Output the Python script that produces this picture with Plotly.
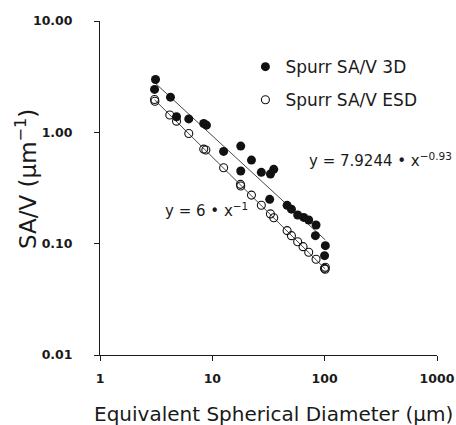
import numpy as np
import plotly.graph_objects as go

# ---- data ----
x_3d = [3.12, 3.06, 4.24, 4.80, 6.17, 8.38, 8.86, 12.6, 17.9, 17.9, 22.3, 27.3,
        32.9, 35.2, 32.4, 46.3, 50.6, 57.5, 65.1, 72.1, 83.8, 82.7, 101.4, 99.8]
y_3d = [2.98, 2.43, 2.07, 1.38, 1.32, 1.20, 1.16, 0.674, 0.752, 0.449, 0.563, 0.437,
        0.422, 0.465, 0.250, 0.221, 0.204, 0.181, 0.172, 0.163, 0.147, 0.118, 0.096, 0.078]

x_esd = [3.06, 3.08, 4.18, 4.80, 6.17, 8.38, 8.76, 12.6, 17.8, 17.9, 22.3, 27.3,
         32.9, 35.2, 46.3, 50.6, 57.5, 64.2, 72.1, 83.8, 101.4, 101.0, 99.5]
y_esd = [1.97, 1.90, 1.43, 1.26, 0.977, 0.707, 0.693, 0.48, 0.341, 0.33, 0.273, 0.221,
         0.185, 0.171, 0.131, 0.118, 0.104, 0.094, 0.0837, 0.0724, 0.0614, 0.0589, 0.0600]

# power-law fits shown on the chart
fit_3d_a, fit_3d_b = 7.9244, -0.93
fit_esd_a, fit_esd_b = 6.0, -1.0

x_tickvals = [1, 10, 100, 1000]
x_ticktext = ["1", "10", "100", "1000"]
y_tickvals = [0.01, 0.1, 1, 10]
y_ticktext = ["0.01", "0.10", "1.00", "10.00"]

FONT = "DejaVu Sans, Liberation Sans, Arial, sans-serif"
INK = "#1a1a1a"

fig = go.Figure()

# trend lines
xl3 = np.array([min(x_3d), max(x_3d)])
fig.add_trace(go.Scatter(x=xl3, y=fit_3d_a * xl3 ** fit_3d_b, mode="lines",
                         line=dict(color="#333333", width=0.9), showlegend=False,
                         hoverinfo="skip"))
xle = np.array([min(x_esd), max(x_esd)])
fig.add_trace(go.Scatter(x=xle, y=fit_esd_a * xle ** fit_esd_b, mode="lines",
                         line=dict(color="#333333", width=0.9), showlegend=False,
                         hoverinfo="skip"))

fig.add_trace(go.Scatter(x=x_esd, y=y_esd, mode="markers", name="Spurr SA/V ESD",
                         marker=dict(symbol="circle-open", size=8, color="#111111",
                                     line=dict(width=1.1, color="#111111")),
                         legend="legend2"))
fig.add_trace(go.Scatter(x=x_3d, y=y_3d, mode="markers", name="Spurr SA/V 3D",
                         marker=dict(symbol="circle", size=9, color="#111111"),
                         legend="legend"))

fig.update_layout(
    width=456, height=425,
    margin=dict(l=100, r=19, t=21, b=70, autoexpand=False),
    paper_bgcolor="white", plot_bgcolor="white",
    font=dict(family=FONT, color=INK),
    xaxis=dict(type="log", range=[0, 3], tickvals=x_tickvals, ticktext=x_ticktext,
               automargin=False,
               showgrid=False, zeroline=False, showline=True, linecolor=INK,
               linewidth=1, ticks="outside", ticklen=5, tickcolor=INK,
               tickfont=dict(size=12.5, family=FONT, weight="bold", color=INK),
               ticklabelstandoff=7),
    yaxis=dict(type="log", range=[-2, 1], tickvals=y_tickvals, ticktext=y_ticktext,
               automargin=False,
               showgrid=False, zeroline=False, showline=True, linecolor=INK,
               linewidth=1, ticks="outside", ticklen=5, tickcolor=INK,
               tickfont=dict(size=12.5, family=FONT, weight="bold", color=INK),
               ticklabelstandoff=19),
    legend=dict(x=0.4315, y=0.862, xanchor="left", yanchor="middle",
                bgcolor="rgba(0,0,0,0)", font=dict(size=17, family=FONT),
                borderwidth=0),
    legend2=dict(x=0.4315, y=0.763, xanchor="left", yanchor="middle",
                 bgcolor="rgba(0,0,0,0)", font=dict(size=17, family=FONT),
                 borderwidth=0),
)

fig.add_annotation(text="y = 7.9244 \u2022 x<sup>\u22120.93</sup>", xref="paper", yref="paper",
                   x=(307 - 100) / 337, y=(355 - 160) / 334, xanchor="left", yanchor="middle",
                   showarrow=False, font=dict(size=15, family=FONT))
fig.add_annotation(text="y = 6 \u2022 x<sup>\u22121</sup>", xref="paper", yref="paper",
                   x=(163 - 100) / 337, y=(355 - 210) / 334, xanchor="left", yanchor="middle",
                   showarrow=False, font=dict(size=15, family=FONT))

# axis titles
fig.add_annotation(text="Equivalent Spherical Diameter (\u03bcm)", xref="paper", yref="paper",
                   x=(273 - 100) / 337, y=(355 - 414) / 334, xanchor="center", yanchor="middle",
                   showarrow=False, font=dict(size=20, family=FONT))
fig.add_annotation(text="SA/V (\u03bcm<sup>\u22121</sup>)", xref="paper", yref="paper",
                   x=(26 - 100) / 337, y=(355 - 179) / 334, xanchor="center", yanchor="middle",
                   textangle=-90, showarrow=False, font=dict(size=23, family=FONT))

fig.write_html("out.html", config={"displayModeBar": False},
               post_script="document.body.style.margin='0';document.body.style.overflow='hidden';")
